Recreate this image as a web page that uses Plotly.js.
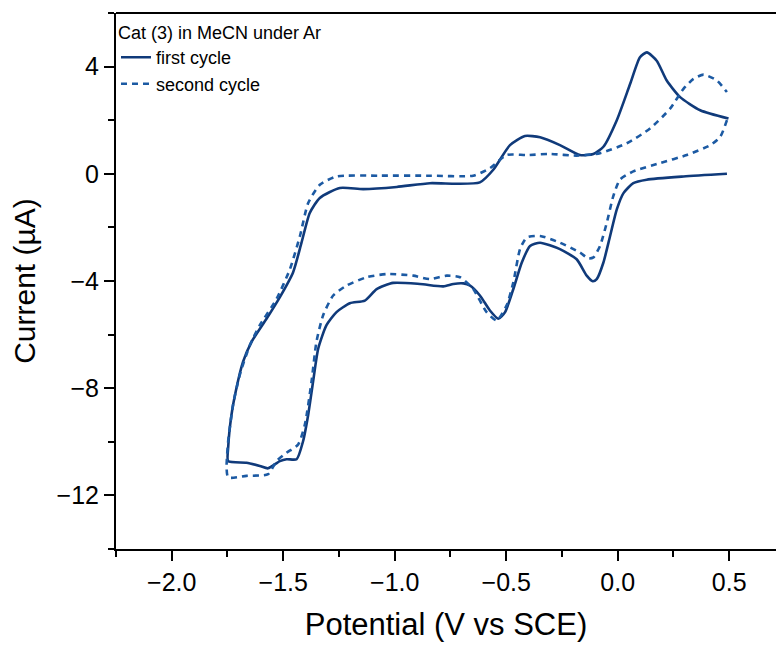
<!DOCTYPE html>
<html>
<head>
<meta charset="utf-8">
<script src="https://cdn.plot.ly/plotly-3.0.1.min.js"></script>
<style>html,body{margin:0;padding:0;background:#fff;overflow:hidden;}#chart{width:776px;height:648px;}</style>
</head>
<body>
<div id="chart"></div>
<script>
// First cycle: starts at +0.5 V, cathodic scan (lower branch), then anodic return (upper branch)
const firstPotential = [0.49, 0.295, 0.13, 0.07, 0.026, -0.004, -0.034, -0.064, -0.094, -0.112, -0.139, -0.184, -0.259, -0.348, -0.393, -0.43, -0.468, -0.505, -0.535, -0.573, -0.618, -0.662, -0.692, -0.737, -0.782, -0.887, -1.007, -1.081, -1.134, -1.201, -1.261, -1.306, -1.343, -1.366, -1.388, -1.411, -1.44, -1.485, -1.515, -1.568, -1.605, -1.665, -1.747,
  -1.747, -1.732, -1.71, -1.68, -1.642, -1.575, -1.515, -1.456, -1.418, -1.381, -1.336, -1.246, -1.141, -0.991, -0.842, -0.722, -0.618, -0.558, -0.483, -0.416, -0.348, -0.259, -0.169, -0.109, -0.064, -0.004, 0.056, 0.10, 0.131, 0.175, 0.22, 0.28, 0.37, 0.497];
const firstCurrent = [0.0, -0.1, -0.22, -0.35, -0.72, -1.33, -2.32, -3.31, -3.93, -4.01, -3.80, -3.19, -2.81, -2.57, -2.69, -3.31, -4.30, -5.16, -5.41, -5.10, -4.54, -4.17, -4.09, -4.11, -4.20, -4.11, -4.07, -4.30, -4.73, -4.83, -5.16, -5.65, -6.52, -7.75, -8.99, -9.98, -10.65, -10.65, -10.72, -10.99, -10.90, -10.78, -10.72,
  -10.22, -8.99, -8.0, -7.01, -6.27, -5.41, -4.60, -3.68, -2.57, -1.46, -0.90, -0.53, -0.57, -0.49, -0.35, -0.37, -0.32, 0.15, 1.07, 1.41, 1.36, 1.07, 0.70, 0.74, 1.01, 2.0, 3.36, 4.35, 4.53, 4.22, 3.48, 2.86, 2.37, 2.06];

// Second cycle: continues from the end of the first cycle
const secondPotential = [0.49, 0.46, 0.415, 0.31, 0.19, 0.07, 0.01, -0.02, -0.049, -0.079, -0.109, -0.131, -0.169, -0.259, -0.348, -0.408, -0.438, -0.468, -0.498, -0.543, -0.588, -0.648, -0.707, -0.767, -0.842, -0.917, -1.036, -1.126, -1.216, -1.276, -1.321, -1.351, -1.373, -1.403, -1.433, -1.485, -1.53, -1.568, -1.665, -1.747,
  -1.754, -1.747, -1.725, -1.695, -1.65, -1.605, -1.53, -1.47, -1.425, -1.388, -1.336, -1.261, -1.066, -0.842, -0.648, -0.573, -0.498, -0.408, -0.303, -0.184, -0.079, 0.041, 0.145, 0.235, 0.295, 0.34, 0.385, 0.445, 0.49];
const secondCurrent = [2.0, 1.38, 1.07, 0.70, 0.40, 0.09, -0.22, -0.84, -1.83, -2.69, -3.12, -3.16, -2.94, -2.57, -2.32, -2.38, -2.81, -4.05, -4.91, -5.47, -5.16, -4.30, -3.86, -3.80, -3.93, -3.80, -3.74, -3.86, -4.17, -4.54, -5.28, -6.27, -7.75, -9.36, -10.1, -10.41, -10.72, -11.21, -11.27, -11.33,
  -10.96, -9.98, -8.62, -7.51, -6.40, -5.65, -4.67, -3.56, -2.32, -1.09, -0.41, -0.10, -0.07, -0.07, -0.07, 0.21, 0.70, 0.70, 0.74, 0.68, 0.77, 1.14, 1.69, 2.43, 3.17, 3.54, 3.70, 3.48, 3.05];

const seriesNames = ['first cycle', 'second cycle'];
const legendTitle = 'Cat (3) in MeCN under Ar';
const xTitle = 'Potential (V vs SCE)';
const yTitle = 'Current (\u00b5A)';

const font = 'Arial, "Liberation Sans", sans-serif';

const traces = [
  {x: firstPotential, y: firstCurrent, name: seriesNames[0], type: 'scatter', mode: 'lines',
   line: {color: '#103a7a', width: 2.6, shape: 'spline', smoothing: 0.6}},
  {x: secondPotential, y: secondCurrent, name: seriesNames[1], type: 'scatter', mode: 'lines',
   line: {color: '#1c5aa3', width: 2.6, dash: '6px,5px', shape: 'spline', smoothing: 0.6}}
];

const layout = {
  width: 776, height: 648,
  margin: {l: 116, r: 0, t: 13, b: 99},
  paper_bgcolor: '#fff', plot_bgcolor: '#fff',
  font: {family: font, color: '#000'},
  showlegend: true,
  legend: {
    x: 0.0, y: 0.995, xanchor: 'left', yanchor: 'top',
    bgcolor: 'rgba(0,0,0,0)', borderwidth: 0,
    title: {text: legendTitle, font: {size: 18, family: font}},
    font: {size: 18, family: font},
    tracegroupgap: 0, itemwidth: 30
  },
  shapes: [
    {type: 'line', xref: 'paper', yref: 'paper', x0: 0, x1: 1, y0: 1, y1: 1,
     line: {color: '#000', width: 2}}
  ],
  xaxis: {
    range: [-2.25, 0.71], showgrid: false, zeroline: false,
    showline: true, linecolor: '#000', linewidth: 2, mirror: false,
    ticks: 'outside', ticklen: 10, tickwidth: 2, tickcolor: '#000',
    dtick: 0.5, tick0: 0, tickformat: '.1f',
    tickfont: {size: 25, family: font},
    minor: {dtick: 0.25, tick0: 0, ticks: 'outside', ticklen: 6, tickwidth: 2, tickcolor: '#000', showgrid: false},
    title: {text: xTitle, font: {size: 31, family: font}, standoff: 18}
  },
  yaxis: {
    range: [-14, 6], showgrid: false, zeroline: false,
    showline: true, linecolor: '#000', linewidth: 2, mirror: false,
    ticks: 'outside', ticklen: 10, tickwidth: 2, tickcolor: '#000',
    dtick: 4, tick0: 0,
    tickfont: {size: 25, family: font},
    minor: {dtick: 2, tick0: 0, ticks: 'outside', ticklen: 6, tickwidth: 2, tickcolor: '#000', showgrid: false},
    title: {text: yTitle, font: {size: 30, family: font}, standoff: 12}
  }
};

Plotly.newPlot('chart', traces, layout, {displayModeBar: false, staticPlot: true});
</script>
</body>
</html>
